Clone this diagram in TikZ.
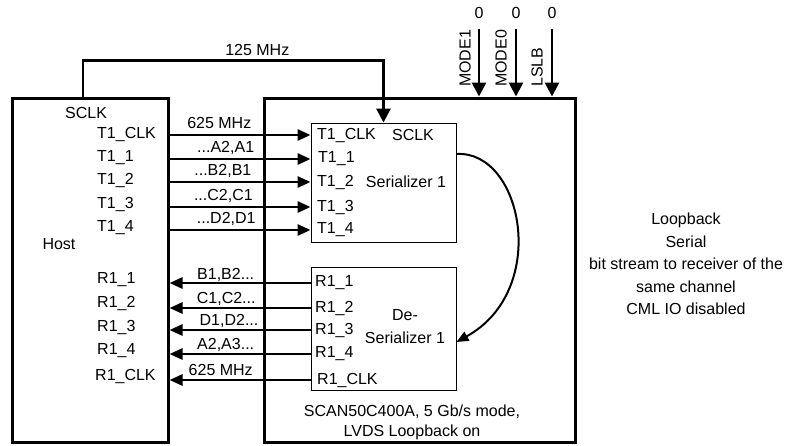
\documentclass[tikz,border=0pt]{standalone}
\usepackage{fontspec}
\setmainfont{Liberation Sans}
\usetikzlibrary{arrows.meta}

\tikzset{
  chip/.style={draw,line width=3pt,inner sep=0pt},
  block/.style={draw,line width=0.9pt,inner sep=0pt},
  pin/.style={anchor=west,inner sep=0pt},
  sig/.style={-{Triangle[length=13pt,width=11pt]},line width=2.8pt},
  strap/.style={-{Triangle[length=14pt,width=14pt]},line width=2.7pt},
  rate/.style={anchor=base east,inner sep=0pt,yshift=#1},
  rate/.default=7pt
}

\begin{document}
\begin{tikzpicture}[x=1pt,y=-1pt,font=\fontsize{16}{20}\selectfont]
  \useasboundingbox (0,0) rectangle (785,445);

  % host and device
  \node[chip,minimum width=156pt,minimum height=344pt] (host) at (90,270) {};
  \node[chip,minimum width=311pt,minimum height=344pt] (dev) at (419.5,270) {};
  \node[block,minimum width=145pt,minimum height=119pt] (ser) at (383.5,182.5) {};
  \node[block,minimum width=145pt,minimum height=123pt] (des) at (383.5,328.5) {};

  % host side
  \node (hostname) at (59,244) {Host};
  \node[pin] (hsclk) at (65,112.5) {SCLK};
  \node[pin] (htclk) at (97,134) {T1\_CLK};
  \node[pin] (ht1) at (97,158) {T1\_1};
  \node[pin] (ht2) at (97,180.5) {T1\_2};
  \node[pin] (ht3) at (97,204) {T1\_3};
  \node[pin] (ht4) at (97,227.5) {T1\_4};
  \node[pin] (hr1) at (97,280) {R1\_1};
  \node[pin] (hr2) at (97,303.5) {R1\_2};
  \node[pin] (hr3) at (97,327) {R1\_3};
  \node[pin] (hr4) at (97,350.5) {R1\_4};
  \node[pin] (hrclk) at (95,376) {R1\_CLK};

  % serializer
  \node[pin] (stclk) at (317,135) {T1\_CLK};
  \node[pin] (st1) at (318,159) {T1\_1};
  \node[pin] (st2) at (317,182) {T1\_2};
  \node[pin] (st3) at (317,207) {T1\_3};
  \node[pin] (st4) at (317,230) {T1\_4};
  \node (sclk) at (413,135) {SCLK};
  \node (sername) at (406,182) {Serializer 1};

  % deserializer
  \node[pin] (dr1) at (315,283) {R1\_1};
  \node[pin] (dr2) at (315,308) {R1\_2};
  \node[pin] (dr3) at (315,330) {R1\_3};
  \node[pin] (dr4) at (315,354) {R1\_4};
  \node[pin] (drclk) at (317,380) {R1\_CLK};
  \node[align=center] (desname) at (405,327) {De-\\[3pt]Serializer 1};

  \node[align=center] (mode) at (412,422) {SCAN50C400A, 5 Gb/s mode,\\LVDS Loopback on};

  % transmit lanes
  \draw[sig] (host.east |- stclk.west) -- (ser.west |- stclk.west) node[rate,pos=0.59] {625 MHz};
  \draw[sig] (host.east |- st1.west) -- (ser.west |- st1.west) node[rate,pos=0.61] {...A2,A1};
  \draw[sig] (host.east |- st2.west) -- (ser.west |- st2.west) node[rate,pos=0.59] {...B2,B1};
  \draw[sig] (host.east |- st3.west) -- (ser.west |- st3.west) node[rate,pos=0.6] {...C2,C1};
  \draw[sig] (host.east |- st4.west) -- (ser.west |- st4.west) node[rate,pos=0.62] {...D2,D1};

  % receive lanes
  \draw[sig] (des.west |- dr1.west) -- (host.east |- dr1.west) node[rate=4pt,pos=0.39] {B1,B2...};
  \draw[sig] (des.west |- dr2.west) -- (host.east |- dr2.west) node[rate=5pt,pos=0.38] {C1,C2...};
  \draw[sig] (des.west |- dr3.west) -- (host.east |- dr3.west) node[rate=5pt,pos=0.36] {D1,D2...};
  \draw[sig] (des.west |- dr4.west) -- (host.east |- dr4.west) node[rate=5pt,pos=0.39] {A2,A3...};
  \draw[sig] (des.west |- drclk.west) -- (host.east |- drclk.west) node[rate=5pt,pos=0.4] {625 MHz};

  % loopback
  \draw[-{Triangle[length=12pt,width=10pt]},line width=2pt]
    ([yshift=28.5pt]ser.east) .. controls +(66,-4) and +(94,-52) .. ([yshift=-13.5pt]des.east);

  % reference clock
  \draw[strap] ([xshift=-7pt]host.north) -- ++(0,-36) -| (ser.north)
    node[pos=0.29,above,inner sep=3pt] {125 MHz};

  % strap pins
  \node (z1) at (479,13) {0};
  \node (z2) at (516,13) {0};
  \node (z3) at (552,13) {0};
  \draw[strap] ([yshift=-7pt]z1.south) -- (z1 |- dev.north);
  \draw[strap] ([yshift=-7pt]z2.south) -- (z2 |- dev.north);
  \draw[strap] ([yshift=-7pt]z3.south) -- (z3 |- dev.north);
  \node[rotate=90,anchor=west,inner sep=0pt] (m1) at (465,87) {MODE1};
  \node[rotate=90,anchor=west,inner sep=0pt] (m0) at (501,87) {MODE0};
  \node[rotate=90,anchor=west,inner sep=0pt] (lslb) at (537,87) {LSLB};

  \node[align=center,font=\fontsize{16}{22.5}\selectfont] (note) at (686,264)
    {Loopback\\Serial\\bit stream to receiver of the\\same channel\\CML IO disabled};
\end{tikzpicture}
\end{document}
